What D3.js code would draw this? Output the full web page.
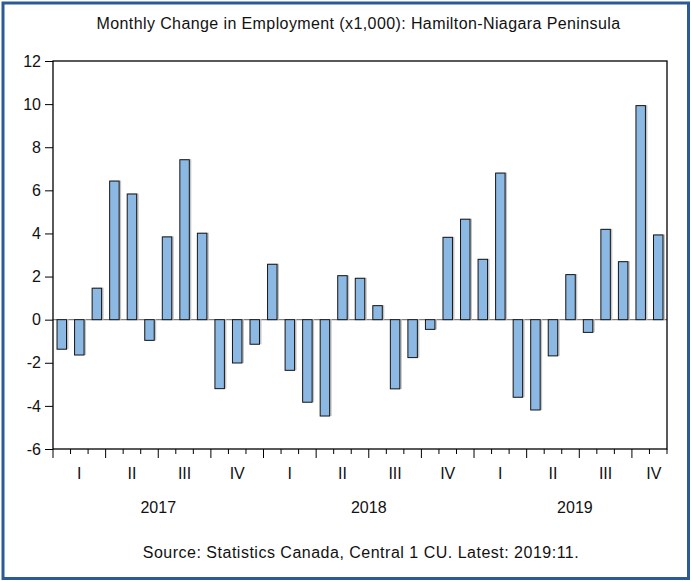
<!DOCTYPE html>
<html>
<head>
<meta charset="utf-8">
<script src="https://cdn.jsdelivr.net/npm/d3@7"></script>
<style>
  html, body { margin: 0; padding: 0; background: #fff; }
  svg { display: block; }
  text { font-family: "Liberation Sans", Arial, sans-serif; fill: #111; }
</style>
</head>
<body>
<svg id="chart" width="691" height="581"></svg>
<script>
// ---- Data ----
const months = [
  "2017-01","2017-02","2017-03","2017-04","2017-05","2017-06","2017-07","2017-08","2017-09","2017-10","2017-11","2017-12",
  "2018-01","2018-02","2018-03","2018-04","2018-05","2018-06","2018-07","2018-08","2018-09","2018-10","2018-11","2018-12",
  "2019-01","2019-02","2019-03","2019-04","2019-05","2019-06","2019-07","2019-08","2019-09","2019-10","2019-11"
];
const values = [
  -1.37, -1.64, 1.46, 6.43, 5.83, -0.96, 3.84, 7.42, 4.01, -3.20, -2.01, -1.14,
  2.57, -2.35, -3.83, -4.47, 2.04, 1.92, 0.65, -3.21, -1.76, -0.45, 3.82, 4.66,
  2.80, 6.80, -3.60, -4.19, -1.68, 2.09, -0.59, 4.19, 2.69, 9.93, 3.93
];
const quarterLabels = ["I", "II", "III", "IV"];
const years = ["2017", "2018", "2019"];
const yTicks = [-6, -4, -2, 0, 2, 4, 6, 8, 10, 12];
const titleText = "Monthly Change in Employment (x1,000): Hamilton-Niagara Peninsula";
const sourceText = "Source: Statistics Canada, Central 1 CU. Latest: 2019:11.";

// ---- Layout ----
const W = 691, H = 581;
const plot = { left: 53, right: 667, top: 61, bottom: 449 };
const svg = d3.select("#chart");

svg.append("rect").attr("x", 0).attr("y", 0).attr("width", W).attr("height", H).attr("fill", "#fff");

// outer frame
svg.append("rect")
  .attr("x", 3).attr("y", 3).attr("width", W - 5.5).attr("height", H - 5.5)
  .attr("fill", "none").attr("stroke", "#2c5a96").attr("stroke-width", 3);

const x = d3.scaleBand().domain(months).range([plot.left, plot.right])
  .paddingInner(0.46).paddingOuter(0.23);
const step = x.step();
const y = d3.scaleLinear().domain([-6, 12]).range([plot.bottom, plot.top]);

// title
svg.append("text").attr("x", 358.5).attr("y", 29).attr("text-anchor", "middle")
  .style("font-size", "16px").style("letter-spacing", "0.4px").text(titleText);

// zero line
svg.append("line")
  .attr("x1", plot.left).attr("x2", plot.right)
  .attr("y1", y(0)).attr("y2", y(0))
  .attr("stroke", "#7f7f7f").attr("stroke-width", 1.2);

// bars (shadow + bar)
const g = svg.append("g");
g.selectAll("rect.shadow").data(values).join("rect")
  .attr("class", "shadow")
  .attr("x", (d, i) => x(months[i]) + 1)
  .attr("y", d => Math.min(y(d), y(0)) - 0.5)
  .attr("width", x.bandwidth() + 1)
  .attr("height", d => Math.abs(y(d) - y(0)) + 0.5)
  .attr("fill", "#c4c4c4");
g.selectAll("rect.bar").data(values).join("rect")
  .attr("class", "bar")
  .attr("x", (d, i) => x(months[i]))
  .attr("y", d => Math.min(y(d), y(0)))
  .attr("width", x.bandwidth())
  .attr("height", d => Math.abs(y(d) - y(0)))
  .attr("fill", "#8cb9e4")
  .attr("stroke", "#151515").attr("stroke-width", 1);

// plot frame
svg.append("rect")
  .attr("x", plot.left).attr("y", plot.top)
  .attr("width", plot.right - plot.left).attr("height", plot.bottom - plot.top)
  .attr("fill", "none").attr("stroke", "#000").attr("stroke-width", 1.3);

// y axis
const yAxis = d3.axisLeft(y).tickValues(yTicks).tickSize(8).tickPadding(4).tickFormat(d => String(d));
const ya = svg.append("g").attr("transform", `translate(${plot.left},0)`).call(yAxis);
ya.select(".domain").remove();
ya.selectAll("line").attr("stroke", "#000");
ya.selectAll("text").style("font-size", "16px").attr("fill", "#111")
  .style("font-family", '"Liberation Sans", Arial, sans-serif');

// x ticks at month boundaries
const boundaries = months.map((m, i) => i).concat([months.length]);
const xb = i => plot.left + i * step;
svg.append("g").selectAll("line").data(boundaries).join("line")
  .attr("x1", i => xb(i)).attr("x2", i => xb(i))
  .attr("y1", plot.bottom)
  .attr("y2", i => plot.bottom + (i % 3 === 0 ? 9 : 5))
  .attr("stroke", "#000").attr("stroke-width", 1);

// quarter labels
const quarters = [];
for (let q = 0; q < Math.ceil(months.length / 3); q++) {
  const start = q * 3;
  const end = Math.min(start + 3, months.length + 0.5);
  quarters.push({ label: quarterLabels[q % 4], c: (xb(start) + xb(end)) / 2 });
}
svg.append("g").selectAll("text").data(quarters).join("text")
  .attr("x", d => d.c).attr("y", 479).attr("text-anchor", "middle")
  .style("font-size", "16px").text(d => d.label);

// year labels
const yearPos = years.map((yr, k) => {
  const start = k * 12;
  const end = Math.min(start + 12, months.length + 0.5);
  return { label: yr, c: (xb(start) + xb(end)) / 2 };
});
svg.append("g").selectAll("text").data(yearPos).join("text")
  .attr("x", d => d.c).attr("y", 513).attr("text-anchor", "middle")
  .style("font-size", "16px").text(d => d.label);

// source
svg.append("text").attr("x", 361).attr("y", 558).attr("text-anchor", "middle")
  .style("font-size", "16px").style("letter-spacing", "0.5px").text(sourceText);
</script>
</body>
</html>
